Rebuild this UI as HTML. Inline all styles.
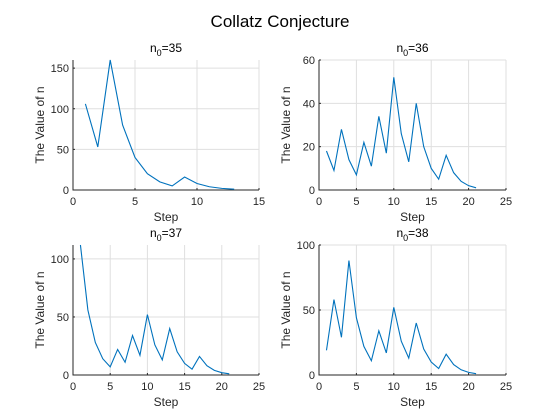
<!DOCTYPE html>
<html><head><meta charset="utf-8">
<style>
body{margin:0;background:#fff;}
svg{display:block;font-family:"Liberation Sans",Arial,sans-serif;}
</style></head>
<body>
<svg id="fig" width="560" height="420" xmlns="http://www.w3.org/2000/svg">
<rect width="560" height="420" fill="#fff"/>
<text x="280" y="27" text-anchor="middle" font-size="17" fill="#000">Collatz Conjecture</text>
</svg>
<script>
const seq35 = [106,53,160,80,40,20,10,5,16,8,4,2,1];
const seq36 = [18,9,28,14,7,22,11,34,17,52,26,13,40,20,10,5,16,8,4,2,1];
const seq37 = [112,56,28,14,7,22,11,34,17,52,26,13,40,20,10,5,16,8,4,2,1];
const seq38 = [19,58,29,88,44,22,11,34,17,52,26,13,40,20,10,5,16,8,4,2,1];
const xticks35 = [0,5,10,15];
const xticks25 = [0,5,10,15,20,25];
const yticks35 = [0,50,100,150];
const yticks36 = [0,20,40,60];
const yticks37 = [0,50,100];
const yticks38 = [0,50,100];

const NS = "http://www.w3.org/2000/svg";
const svg = document.getElementById('fig');
function mk(tag, attrs, parent){
  const e = document.createElementNS(NS, tag);
  for (const k in attrs) e.setAttribute(k, attrs[k]);
  (parent||svg).appendChild(e);
  return e;
}
function panel(id, box, xmax, ymax, xt, yt, data, n0){
  const g = mk('g', {});
  
  
  const [L,T,R,B] = box;
  const sx = v => L + (R-L)*v/xmax;
  const sy = v => B - (B-T)*v/ymax;
  xt.forEach(v=>{ if(v>0){ const l=mk('line',{x1:sx(v),x2:sx(v),y1:T,y2:B,stroke:'#dfdfdf','stroke-width':1},g);
      }});
  yt.forEach(v=>{ if(v>0){ const l=mk('line',{x1:L,x2:R,y1:sy(v),y2:sy(v),stroke:'#dfdfdf','stroke-width':1},g);
      }});
  const ax = mk('path',{d:`M${L} ${T}V${B}H${R}`,stroke:'#262626','stroke-width':1,fill:'none'},g);
   
  xt.forEach(v=>{
    mk('line',{x1:sx(v),x2:sx(v),y1:B,y2:B-2,stroke:'#262626'},g);
    const t=mk('text',{x:sx(v),y:B+15,'text-anchor':'middle','font-size':11,fill:'#262626'},g);
    t.textContent=v;
     
  });
  yt.forEach(v=>{
    mk('line',{x1:L,x2:L+2,y1:sy(v),y2:sy(v),stroke:'#262626'},g);
    const t=mk('text',{x:L-4,y:sy(v)+4,'text-anchor':'end','font-size':11,fill:'#262626'},g);
    t.textContent=v;
     
  });
  const xl=mk('text',{x:(L+R)/2,y:B+31,'text-anchor':'middle','font-size':12,fill:'#262626'},g);
  xl.textContent='Step';
   
  const cx=L-29, cy=(T+B)/2;
  const yl=mk('text',{x:cx,y:cy,'text-anchor':'middle','font-size':12,fill:'#262626',transform:`rotate(-90 ${cx} ${cy})`},g);
  yl.textContent='The Value of n';
   
  const tt=mk('text',{x:(L+R)/2,y:T-8,'text-anchor':'middle','font-size':12,fill:'#000'},g);
  tt.innerHTML='n<tspan dy="4" font-size="9">0</tspan><tspan dy="-4">='+n0+'</tspan>';
   
  const pts = data.map((v,i)=>sx(i+1)+','+sy(v)).join(' ');
  const pl=mk('polyline',{points:pts,fill:'none',stroke:'#0072bd','stroke-width':1.1},g);
   
}
panel('a',[73,60,259,190],15,160,xticks35,yticks35,seq35,35);
panel('b',[319,60,506,190],25,60,xticks25,yticks36,seq36,36);
panel('c',[73,245,259,375],25,112,xticks25,yticks37,seq37,37);
panel('d',[319,245,506,375],25,100,xticks25,yticks38,seq38,38);
</script>
</body></html>
